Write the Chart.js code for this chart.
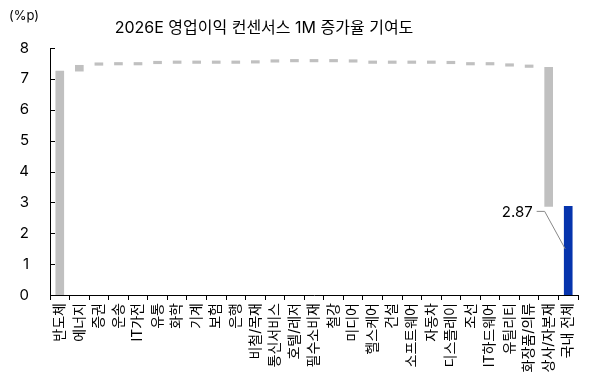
<!DOCTYPE html>
<html>
<head>
<meta charset="utf-8">
<script src="https://cdn.jsdelivr.net/npm/chart.js@4"></script>
<style>
  html, body { margin: 0; padding: 0; background: #fff; }
  #wrap { width: 591px; height: 387px; }
</style>
</head>
<body>
<div id="wrap"><canvas id="myChart" width="591" height="387"></canvas></div>
<script>
const categories = ['반도체', '에너지', '증권', '운송', 'IT가전', '유통', '화학', '기계', '보험', '은행',
  '비철/목재', '통신서비스', '호텔/레저', '필수소비재', '철강', '미디어', '헬스케어', '건설', '소프트웨어',
  '자동차', '디스플레이', '조선', 'IT하드웨어', '유틸리티', '화장품/의류', '상사/자본재', '국내 전체'];

// contribution of each sector (%p), last item is the total
const contributions = [7.25, 0.19, 0.02, -0.01, 0.04, 0.01, 0.00, 0.00, 0.00, 0.01,
  0.03, 0.01, 0.00, 0.00, 0.00, -0.01, -0.04, 0.00, 0.00,
  0.00, -0.01, -0.04, 0.00, -0.04, -0.04, -4.50];
const total = 2.87;

const yTicks = [0, 1, 2, 3, 4, 5, 6, 7, 8];

const FONT = 'Inter, "Noto Sans CJK KR", sans-serif';

// build floating bars for the waterfall
const barData = [];
let cum = 0;
for (let i = 0; i < contributions.length; i++) {
  const start = cum;
  cum = +(cum + contributions[i]).toFixed(2);
  barData.push([start, cum]);
}
barData.push([0, total]);
const colors = barData.map((d, i) => i === barData.length - 1 ? '#0634ad' : '#c0c0c0');

const extras = {
  id: 'extras',
  afterDraw(chart) {
    const ctx = chart.ctx;
    const x = chart.scales.x, y = chart.scales.y;
    ctx.save();
    // inward ticks on the y axis
    ctx.strokeStyle = '#000';
    ctx.lineWidth = 1;
    yTicks.forEach(v => {
      const py = Math.round(y.getPixelForValue(v)) + 0.5;
      ctx.beginPath();
      ctx.moveTo(x.left, py);
      ctx.lineTo(x.left + 5, py);
      ctx.stroke();
    });
    // title and unit
    ctx.fillStyle = '#000';
    ctx.textBaseline = 'middle';
    ctx.textAlign = 'center';
    ctx.font = '16px ' + FONT;
    ctx.fillText('2026E 영업이익 컨센서스 1M 증가율 기여도', 264, 28);
    ctx.textAlign = 'left';
    ctx.font = '13px ' + FONT;
    ctx.fillText('(%p)', 9, 16);
    // total label with leader line
    const n = categories.length;
    const xPrev = x.getPixelForValue(n - 2);
    const xLast = x.getPixelForValue(n - 1);
    const ly = y.getPixelForValue(total) + 5;
    ctx.font = '15px ' + FONT;
    ctx.textAlign = 'right';
    ctx.fillText(total.toFixed(2), xPrev - 16, ly + 1);
    ctx.strokeStyle = '#888';
    ctx.beginPath();
    ctx.moveTo(xPrev - 12, ly);
    ctx.lineTo(xPrev - 4, ly);
    ctx.lineTo(xLast - 3, y.getPixelForValue(total * 0.52));
    ctx.stroke();
    ctx.restore();
  }
};

new Chart(document.getElementById('myChart'), {
  type: 'bar',
  data: {
    labels: categories,
    datasets: [{
      data: barData,
      backgroundColor: colors,
      borderWidth: 0,
      barThickness: 8,
      minBarLength: 2.5
    }]
  },
  options: {
    responsive: false,
    animation: false,
    layout: { padding: { top: 48, right: 13, left: 0, bottom: 0 } },
    plugins: {
      legend: { display: false },
      tooltip: { enabled: false },
      title: { display: false }
    },
    scales: {
      x: {
        grid: { drawOnChartArea: false, drawTicks: true, tickLength: 5, color: '#000', offset: true },
        border: { display: true, color: '#000', width: 1 },
        ticks: {
          autoSkip: false, maxRotation: 90, minRotation: 90, padding: 3,
          color: '#000', font: { family: FONT, size: 14 }
        },
        afterFit(scale) { scale.height = 92; }
      },
      y: {
        min: 0, max: 8,
        afterBuildTicks(scale) { scale.ticks = yTicks.map(v => ({ value: v })); },
        grid: { display: false, drawTicks: false },
        border: { display: true, color: '#000', width: 1 },
        ticks: { padding: 21, color: '#000', font: { family: FONT, size: 15 } },
        afterFit(scale) { scale.width = 50; }
      }
    }
  },
  plugins: [extras]
});
</script>
</body>
</html>
